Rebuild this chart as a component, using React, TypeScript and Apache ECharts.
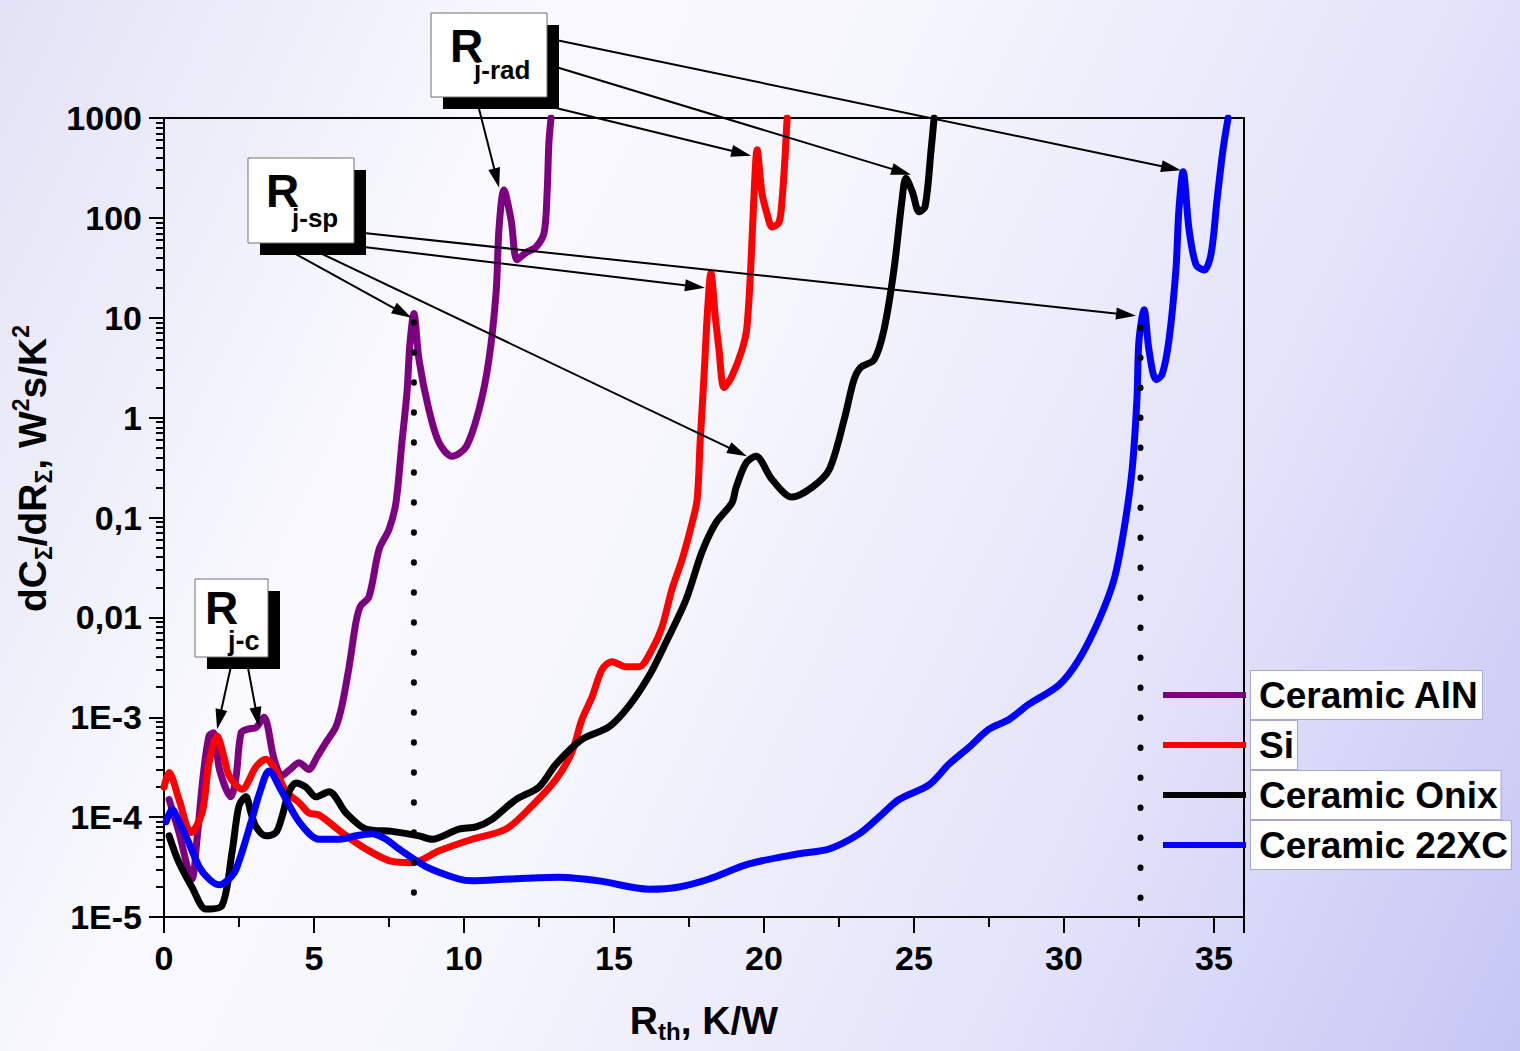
import React, { useEffect, useRef } from 'react';
import * as echarts from 'echarts';

const FONT = '"Liberation Sans", Arial, Helvetica, sans-serif';

const seriesNames = ['Ceramic AlN', 'Si', 'Ceramic Onix', 'Ceramic 22XC'];
const seriesColors = ['#7d0080', '#ff0000', '#000000', '#0000ff'];

// Tick labels by decade exponent -5 .. 3
const yTickLabels = ['1E-5', '1E-4', '1E-3', '0,01', '0,1', '1', '10', '100', '1000'];

const alnData: [number, number][] = [
  [0.17, 1.5e-4], [0.5, 7e-5], [0.93, 2.4e-5], [1.1, 6e-5], [1.3, 2.5e-4], [1.5, 6.5e-4],
  [1.65, 7e-4], [1.85, 3e-4], [2.23, 1.6e-4], [2.4, 2.5e-4], [2.57, 7e-4], [2.8, 7.6e-4],
  [3.07, 7.9e-4], [3.33, 1e-3], [3.67, 3.8e-4], [3.93, 2.6e-4], [4.2, 3e-4], [4.5, 3.5e-4],
  [4.83, 3e-4], [5.1, 4e-4], [5.4, 5.6e-4], [5.73, 8e-4], [5.93, 1.3e-3], [6.17, 3.2e-3],
  [6.4, 9e-3], [6.55, 0.013], [6.83, 0.016], [7.17, 0.048], [7.5, 0.076], [7.73, 0.14],
  [7.93, 0.56], [8.1, 1.8], [8.2, 5.6], [8.33, 11], [8.5, 3.8], [8.83, 1.2], [9.17, 0.56],
  [9.6, 0.41], [10.07, 0.51], [10.5, 1.2], [10.83, 3.8], [11.07, 18], [11.17, 81], [11.33, 190],
  [11.57, 95], [11.77, 38], [12.07, 45], [12.4, 51], [12.67, 71], [12.77, 178], [12.83, 562],
  [12.9, 1000],
];

const siData: [number, number][] = [
  [0.0, 2e-4], [0.17, 2.8e-4], [0.5, 1.5e-4], [0.9, 7e-5], [1.27, 1.1e-4], [1.5, 3.5e-4],
  [1.77, 6.5e-4], [2.0, 4e-4], [2.17, 2.6e-4], [2.6, 1.9e-4], [3.07, 3.2e-4], [3.4, 3.8e-4],
  [3.7, 3e-4], [4.07, 1.8e-4], [4.5, 1.4e-4], [4.83, 1.1e-4], [5.17, 1.05e-4], [5.93, 7e-5],
  [6.73, 4.8e-5], [7.6, 3.6e-5], [8.27, 3.5e-5], [9.17, 4.6e-5], [10.27, 6e-5], [11.4, 7.6e-5],
  [12.27, 1.3e-4], [13.07, 2.4e-4], [13.6, 4.5e-4], [13.93, 9.5e-4], [14.27, 1.6e-3],
  [14.6, 3e-3], [14.93, 3.6e-3], [15.4, 3.2e-3], [15.83, 3.2e-3], [16.27, 4.8e-3],
  [16.6, 8e-3], [16.93, 0.019], [17.27, 0.038], [17.57, 0.081], [17.77, 0.15], [17.87, 0.56],
  [18.0, 2.6], [18.12, 12], [18.23, 28], [18.38, 10], [18.5, 4.8], [18.67, 2.0], [18.93, 2.6],
  [19.27, 4.8], [19.43, 8], [19.57, 38], [19.67, 178], [19.77, 480], [19.93, 178], [20.1, 110],
  [20.27, 81], [20.5, 90], [20.6, 150], [20.7, 400], [20.77, 1000],
];

const onixData: [number, number][] = [
  [0.17, 6.5e-5], [0.5, 3.5e-5], [0.93, 2e-5], [1.4, 1.2e-5], [1.93, 1.3e-5], [2.27, 4.5e-5],
  [2.5, 1.3e-4], [2.73, 1.6e-4], [2.9, 1.1e-4], [3.07, 8e-5], [3.4, 6.5e-5], [3.73, 7e-5],
  [3.93, 1e-4], [4.17, 1.8e-4], [4.4, 2.2e-4], [4.73, 2e-4], [5.07, 1.6e-4], [5.5, 1.8e-4],
  [6.07, 1.1e-4], [6.73, 7.6e-5], [7.6, 7.2e-5], [8.5, 6.5e-5], [8.93, 6e-5], [9.83, 7.6e-5],
  [10.4, 8e-5], [10.93, 9.5e-5], [11.73, 1.5e-4], [12.5, 2e-4], [13.07, 3.4e-4], [13.93, 6e-4],
  [14.83, 8e-4], [15.5, 1.3e-3], [16.17, 2.6e-3], [16.73, 5.6e-3], [17.4, 0.015], [17.93, 0.045],
  [18.4, 0.089], [18.93, 0.14], [19.07, 0.2], [19.4, 0.35], [19.73, 0.41], [20.27, 0.24],
  [20.93, 0.16], [21.6, 0.2], [22.17, 0.3], [22.67, 0.95], [23.0, 2.4], [23.23, 3.2],
  [23.67, 3.8], [24.0, 7.6], [24.33, 30], [24.6, 150], [24.73, 250], [24.95, 180], [25.17, 115],
  [25.37, 130], [25.57, 480], [25.67, 1000],
];

const xcData: [number, number][] = [
  [0.07, 9e-5], [0.27, 1.2e-4], [0.5, 9e-5], [0.73, 6.5e-5], [1.17, 3.2e-5], [1.5, 2.4e-5],
  [1.83, 2.1e-5], [2.1, 2.3e-5], [2.4, 3e-5], [2.93, 9.5e-5], [3.2, 1.8e-4], [3.5, 2.9e-4],
  [3.93, 1.8e-4], [4.5, 9e-5], [5.17, 6e-5], [5.83, 6e-5], [6.4, 6.5e-5], [6.93, 6.8e-5],
  [7.4, 6e-5], [7.83, 4.8e-5], [8.73, 3.2e-5], [9.83, 2.4e-5], [10.27, 2.3e-5], [11.5, 2.4e-5],
  [13.17, 2.5e-5], [14.5, 2.3e-5], [16.17, 1.9e-5], [17.17, 2e-5], [18.17, 2.4e-5],
  [19.5, 3.4e-5], [21.17, 4.3e-5], [22.17, 4.8e-5], [23.17, 6.8e-5], [23.83, 1e-4],
  [24.5, 1.5e-4], [25.5, 2.1e-4], [26.17, 3.4e-4], [26.83, 5e-4], [27.5, 7.6e-4],
  [28.17, 9.5e-4], [28.83, 1.35e-3], [29.83, 2.1e-3], [30.5, 3.8e-3], [31.17, 9.5e-3],
  [31.67, 0.024], [32.0, 0.076], [32.27, 0.3], [32.43, 1.5], [32.5, 6], [32.67, 12],
  [32.83, 4.8], [33.07, 2.4], [33.27, 2.7], [33.5, 6], [33.73, 30], [33.83, 120], [33.97, 290],
  [34.17, 76], [34.4, 34], [34.67, 30], [34.9, 43], [35.1, 150], [35.3, 480], [35.47, 1000],
];

// vertical dotted guide lines (x position, top value)
const guideLines: [number, number][] = [
  [8.33, 9],
  [32.55, 8],
];

// Annotation labels: main letter, subscript, box rect [x, y, w, h]
const labels = [
  { main: 'R', sub: 'j-rad', box: [431, 13, 116, 84], mainPos: [450, 46], subPos: [474, 70], subSize: 26 },
  { main: 'R', sub: 'j-sp', box: [248, 158, 106, 85], mainPos: [266, 191], subPos: [292, 218], subSize: 26 },
  { main: 'R', sub: 'j-c', box: [195, 579, 73, 78], mainPos: [205, 608], subPos: [228, 641], subSize: 27 },
];

// Arrows: start pixel on a label box, tip at a data point
const arrows: { from: [number, number]; to: [number, number] }[] = [
  { from: [556, 40], to: [33.9, 300] },
  { from: [556, 67], to: [24.9, 270] },
  { from: [556, 108], to: [19.57, 420] },
  { from: [476, 97], to: [11.17, 200] },
  { from: [292, 252], to: [8.25, 10] },
  { from: [318, 252], to: [19.43, 0.41] },
  { from: [364, 233], to: [32.4, 10.5] },
  { from: [364, 247], to: [18.03, 20] },
  { from: [233, 657], to: [1.77, 7.6e-4] },
  { from: [246, 657], to: [3.17, 8e-4] },
];

const minorExps: number[] = [];
for (let k = -5; k < 3; k++) {
  for (let m = 2; m <= 9; m++) minorExps.push(k + Math.log10(m));
}

const seriesData = [alnData, siData, onixData, xcData];
// drawing order (bottom to top): AlN, Onix, Si, 22XC
const drawOrder = [0, 2, 1, 3];

export default function App() {
  const ref = useRef<HTMLDivElement>(null);

  useEffect(() => {
    if (!ref.current) return;
    const chart = echarts.init(ref.current, null, { renderer: 'svg' });

    const lineSeries: any[] = drawOrder.map((i) => ({
      name: seriesNames[i],
      type: 'line',
      data: seriesData[i],
      xAxisIndex: 0,
      yAxisIndex: 0,
      symbol: 'none',
      smooth: 0.3,
      color: seriesColors[i],
      lineStyle: { width: 7, color: seriesColors[i], cap: 'round', join: 'round' },
      z: 3 + i,
    }));

    guideLines.forEach(([x, top], idx) => {
      lineSeries.push({
        name: 'guide' + idx,
        type: 'line',
        data: [[x, top], [x, 1e-5]],
        xAxisIndex: 0,
        yAxisIndex: 0,
        symbol: 'none',
        silent: true,
        lineStyle: { width: 6, color: '#000', type: [0.5, 29.5], cap: 'round' },
        z: 10,
      });
    });

    const option: any = {
      animation: false,
      backgroundColor: 'transparent',
      textStyle: { fontFamily: FONT },
      grid: {
        left: 164,
        top: 118,
        width: 1080,
        height: 799,
        show: true,
        borderColor: '#000',
        borderWidth: 2,
        backgroundColor: 'transparent',
      },
      legend: {
        data: seriesNames,
        orient: 'vertical',
        left: 1163,
        top: 670,
        padding: 0,
        itemGap: 0,
        itemWidth: 83,
        itemHeight: 6,
        icon: 'rect',
        selectedMode: false,
        textStyle: {
          fontFamily: FONT,
          fontSize: 37,
          fontWeight: 'bold',
          color: '#000',
          backgroundColor: '#ffffff',
          borderColor: '#a8a8c8',
          borderWidth: 1,
          padding: [1, 3, 1, 8],
          lineHeight: 46,
        },
      },
      xAxis: {
        type: 'value',
        min: 0,
        max: 36,
        interval: 5,
        name: '{m|R}{s|th}{m|, K/W}',
        nameLocation: 'middle',
        nameGap: 80,
        nameTextStyle: {
          rich: {
            m: { fontFamily: FONT, fontSize: 39, fontWeight: 'bold', color: '#000', lineHeight: 46 },
            s: { fontFamily: FONT, fontSize: 24, fontWeight: 'bold', color: '#000', lineHeight: 20, verticalAlign: 'bottom' },
          },
        },
        axisLine: { show: true, onZero: false, lineStyle: { color: '#000', width: 2 } },
        axisTick: { show: true, length: 16, lineStyle: { color: '#000', width: 2 } },
        minorTick: { show: true, splitNumber: 2, length: 10, lineStyle: { color: '#000', width: 2 } },
        axisLabel: {
          margin: 24,
          fontFamily: FONT,
          fontSize: 34,
          fontWeight: 'bold',
          color: '#000',
          showMaxLabel: false,
        },
        splitLine: { show: false },
      },
      yAxis: [
        {
          type: 'log',
          logBase: 10,
          min: 1e-5,
          max: 1000,
          splitNumber: 8,
          position: 'left',
          name: '{m|dC}{s|Σ}{m|/dR}{s|Σ}{m|, W}{p|2}{m|s/K}{p|2}',
          nameLocation: 'middle',
          nameGap: 106,
          nameRotate: 90,
          nameTextStyle: {
            padding: [0, 0, 0, 98],
            rich: {
              m: { fontFamily: FONT, fontSize: 39, fontWeight: 'bold', color: '#000', lineHeight: 46 },
              s: { fontFamily: FONT, fontSize: 23, fontWeight: 'bold', color: '#000', lineHeight: 22, verticalAlign: 'bottom' },
              p: { fontFamily: FONT, fontSize: 23, fontWeight: 'bold', color: '#000', lineHeight: 22, verticalAlign: 'top' },
            },
          },
          axisLine: { show: true, onZero: false, lineStyle: { color: '#000', width: 2 } },
          axisTick: { show: true, length: 15, lineStyle: { color: '#000', width: 2 } },
          axisLabel: {
            margin: 22,
            fontFamily: FONT,
            fontSize: 34,
            fontWeight: 'bold',
            color: '#000',
            formatter: (v: number) => yTickLabels[Math.round(Math.log10(v)) + 5] ?? '',
          },
          splitLine: { show: false },
        },
        {
          type: 'value',
          min: -5,
          max: 3,
          position: 'left',
          axisLine: { show: false },
          axisLabel: { show: false },
          splitLine: { show: false },
          axisTick: { show: true, length: 8, customValues: minorExps, lineStyle: { color: '#000', width: 2 } },
        },
      ],
      series: lineSeries,
    };

    chart.setOption(option);

    const toPx = (d: [number, number]) =>
      chart.convertToPixel({ xAxisIndex: 0, yAxisIndex: 0 }, d) as unknown as number[];

    const graphics: any[] = [];
    arrows.forEach((a) => {
      const tip = toPx(a.to);
      const [x1, y1] = a.from;
      const dx = tip[0] - x1;
      const dy = tip[1] - y1;
      const len = Math.sqrt(dx * dx + dy * dy);
      const ux = dx / len;
      const uy = dy / len;
      const L = 20;
      const W = 6;
      const bx = tip[0] - ux * L;
      const by = tip[1] - uy * L;
      graphics.push({
        type: 'line',
        z: 50,
        shape: { x1, y1, x2: bx + ux * 4, y2: by + uy * 4 },
        style: { stroke: '#000', lineWidth: 2 },
      });
      graphics.push({
        type: 'polygon',
        z: 50,
        shape: {
          points: [
            [tip[0], tip[1]],
            [bx - uy * W, by + ux * W],
            [bx + uy * W, by - ux * W],
          ],
        },
        style: { fill: '#000' },
      });
    });

    labels.forEach((l) => {
      const [x, y, w, h] = l.box;
      graphics.push({
        type: 'rect',
        z: 60,
        shape: { x: x + 12, y: y + 12, width: w, height: h },
        style: { fill: '#000' },
      });
      graphics.push({
        type: 'rect',
        z: 61,
        shape: { x, y, width: w, height: h },
        style: { fill: '#ffffff', stroke: '#707070', lineWidth: 1 },
      });
      graphics.push({
        type: 'text',
        z: 62,
        x: l.mainPos[0],
        y: l.mainPos[1],
        style: {
          text: l.main,
          font: `bold 46px ${FONT}`,
          fill: '#000',
          align: 'left',
          verticalAlign: 'middle',
        },
      });
      graphics.push({
        type: 'text',
        z: 62,
        x: l.subPos[0],
        y: l.subPos[1],
        style: {
          text: l.sub,
          font: `bold ${l.subSize}px ${FONT}`,
          fill: '#000',
          align: 'left',
          verticalAlign: 'middle',
        },
      });
    });

    chart.setOption({ graphic: graphics });

    return () => chart.dispose();
  }, []);

  return (
    <div
      ref={ref}
      style={{
        position: 'fixed',
        left: 0,
        top: 0,
        width: 1520,
        height: 1051,
        background:
          'linear-gradient(115deg, #e2e2f6 0%, #f9f9fe 28%, #f6f6fd 45%, #e4e4fa 72%, #c6c6f5 100%)',
      }}
    />
  );
}
